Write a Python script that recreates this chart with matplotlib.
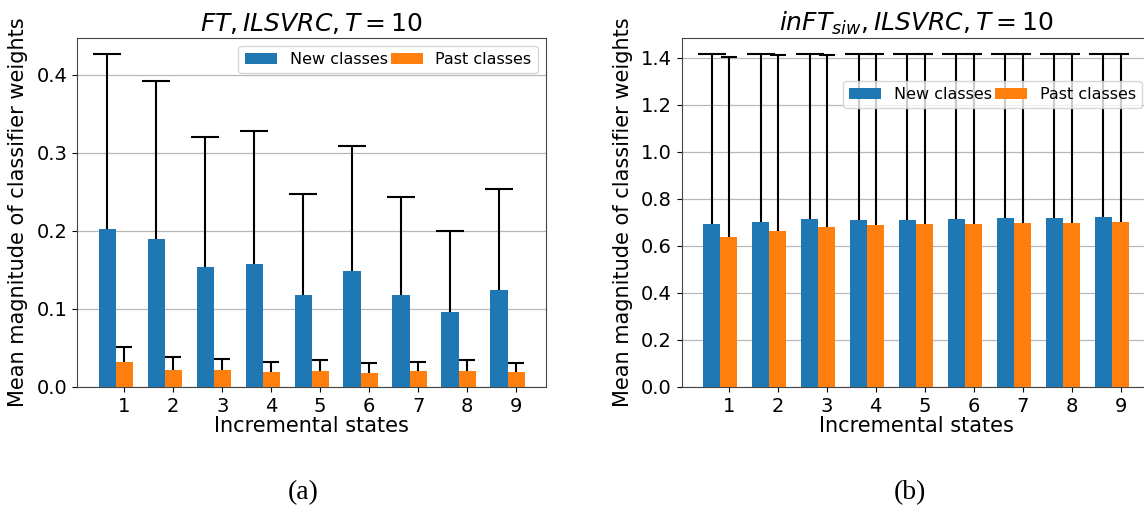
import numpy as np
import matplotlib
matplotlib.use("Agg")
import matplotlib.pyplot as plt
from matplotlib.ticker import MultipleLocator

states = [1, 2, 3, 4, 5, 6, 7, 8, 9]
series_labels = ["New classes", "Past classes"]

# (a) FT, ILSVRC, T=10
ft_new_mean = [0.2025, 0.189, 0.154, 0.158, 0.1175, 0.149, 0.1175, 0.0957, 0.1238]
ft_new_std = [0.2234, 0.2028, 0.1655, 0.1696, 0.1297, 0.1595, 0.1259, 0.1043, 0.1302]
ft_past_mean = [0.0319, 0.0221, 0.0221, 0.0196, 0.0208, 0.0183, 0.0208, 0.0208, 0.0196]
ft_past_std = [0.0192, 0.0158, 0.0141, 0.0127, 0.0132, 0.0119, 0.0115, 0.0132, 0.0114]

# (b) inFT_siw, ILSVRC, T=10
siw_new_mean = [0.691, 0.702, 0.7134, 0.709, 0.709, 0.7134, 0.7176, 0.7176, 0.7219]
siw_new_std = [0.723, 0.712, 0.7006, 0.705, 0.705, 0.7006, 0.6964, 0.6964, 0.6921]
siw_past_mean = [0.637, 0.6624, 0.678, 0.6865, 0.691, 0.6936, 0.6978, 0.6978, 0.702]
siw_past_std = [0.766, 0.7476, 0.732, 0.7275, 0.723, 0.7204, 0.7162, 0.7162, 0.712]

titles = [r"$FT, ILSVRC, T=10$", r"$inFT_{siw}, ILSVRC, T=10$"]
captions = ["(a)", "(b)"]
ytick_steps = [0.1, 0.2]

W, H = 1144, 512
fig = plt.figure(figsize=(W / 100, H / 100), dpi=100)

ax_w = 0.4097
axes_pos = [
    [77.3 / W, (H - 387) / H, ax_w, (387 - 37.7) / H],
    [681.7 / W, (H - 387) / H, ax_w, (387 - 37.7) / H],
]

data = [
    (ft_new_mean, ft_new_std, ft_past_mean, ft_past_std),
    (siw_new_mean, siw_new_std, siw_past_mean, siw_past_std),
]
legend_anchor = [(1.0, 1.0), (1.0, 0.90)]

bw = 0.35
x = np.array(states, dtype=float)
ekw = dict(elinewidth=1.5, capthick=1.5, ecolor="black", zorder=2)
for i in range(2):
    ax = fig.add_axes(axes_pos[i])
    nm, ns, pm, ps = data[i]
    ax.set_axisbelow(True)
    ax.yaxis.grid(True, color="#b8b8b8", linewidth=0.9)
    b1 = ax.bar(x - bw, nm, bw, yerr=[np.zeros(len(ns)), ns], capsize=10,
                color="#1f77b4", label=series_labels[0], zorder=3, error_kw=ekw)
    b2 = ax.bar(x, pm, bw, yerr=[np.zeros(len(ps)), ps], capsize=6,
                color="#ff7f0e", label=series_labels[1], zorder=3, error_kw=ekw)
    # only upper error bars are shown: hide the lower caps
    for b in (b1, b2):
        caps = b.errorbar.lines[1]
        if len(caps) > 0:
            caps[0].set_visible(False)
    ax.set_xticks(states)
    ax.yaxis.set_major_locator(MultipleLocator(ytick_steps[i]))
    ax.tick_params(labelsize=14)
    ax.set_xlabel("Incremental states", fontsize=15, labelpad=0)
    ax.set_ylabel("Mean magnitude of classifier weights", fontsize=15, labelpad=6)
    ax.set_title(titles[i], fontsize=18, pad=5)
    ax.legend(ncol=2, fontsize=11.5, columnspacing=0.2, loc="upper right",
              bbox_to_anchor=legend_anchor[i])
    for sp in ax.spines.values():
        sp.set_color("#444444")

fig.text(303 / W, 1 - 493 / H, captions[0], fontsize=20, family="Liberation Serif",
         ha="center", va="center")
fig.text(910 / W, 1 - 493 / H, captions[1], fontsize=20, family="Liberation Serif",
         ha="center", va="center")

fig.savefig("out.png", dpi=100)
